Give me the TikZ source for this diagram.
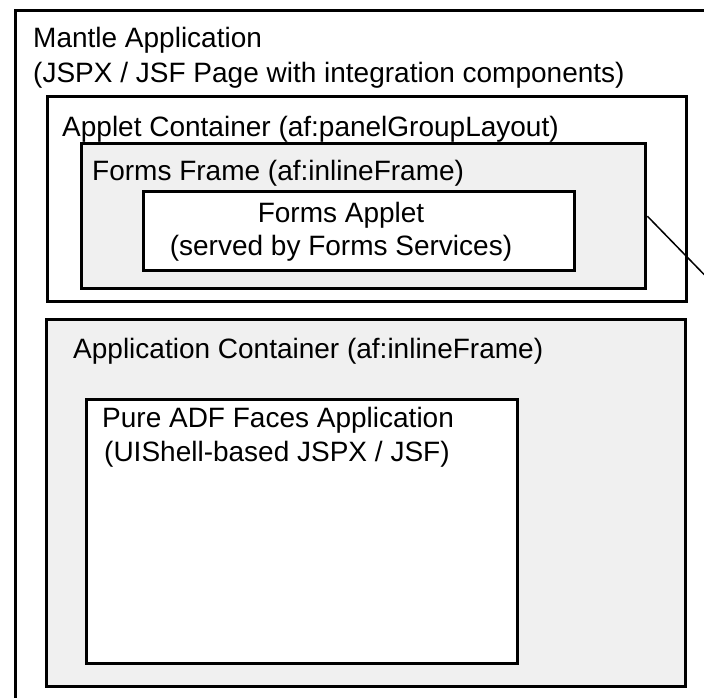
\documentclass[tikz,border=0pt]{standalone}
\usepackage{fontspec}
\setmainfont{Liberation Sans}
\definecolor{framegray}{RGB}{240,240,240}
\begin{document}
\begin{tikzpicture}[x=1pt,y=-1pt,
        box/.style={draw,line width=3.4pt,rectangle,anchor=north west,inner sep=0pt},
        boxtext/.style={anchor=base west,inner sep=0pt,font=\fontsize{28}{34}\selectfont}]
        %% Page
        \useasboundingbox[fill=white] (0,0) rectangle (704,697);
        \clip (0,0) rectangle (704,697);
        %% Mantle application
        \node[box,fill=white,minimum width=800,minimum height=800] (mantle) at (14,9) {};
        \node[boxtext] (mantletitle) at (33,47) {Mantle Application};
        \node[boxtext] (mantlesub) at (33,82) {(JSPX / JSF Page with integration components)};
        %% Applet container and forms frame
        \node[box,fill=white,minimum width=639,minimum height=205] (appletcont) at (46,95) {};
        \node[box,fill=framegray,minimum width=564,minimum height=145] (formsframe) at (80,142) {};
        \node[box,fill=white,minimum width=431,minimum height=79] (formsapplet) at (142,190) {};
        \node[boxtext] (appletconttitle) at (62,136) {Applet Container (af:panelGroupLayout)};
        \node[boxtext] (formsframetitle) at (92,180) {Forms Frame (af:inlineFrame)};
        \node[boxtext,anchor=base] (formsapplettitle) at (341,222) {Forms Applet};
        \node[boxtext,anchor=base] (formsappletsub) at (341,255) {(served by Forms Services)};
        %% Application container
        \node[box,fill=framegray,minimum width=639,minimum height=367] (appcont) at (45,318) {};
        \node[boxtext] (appconttitle) at (73,358) {Application Container (af:inlineFrame)};
        \node[box,fill=white,minimum width=431,minimum height=264] (pureadf) at (85,398) {};
        \node[boxtext] (pureadftitle) at (102,427) {Pure ADF Faces Application};
        \node[boxtext] (pureadfsub) at (104,461) {(UIShell-based JSPX / JSF)};
        %% Callout line
        \coordinate (callout) at (760,332);
        \draw[line width=1.5pt] (formsframe.east) -- (callout);
\end{tikzpicture}
\end{document}
